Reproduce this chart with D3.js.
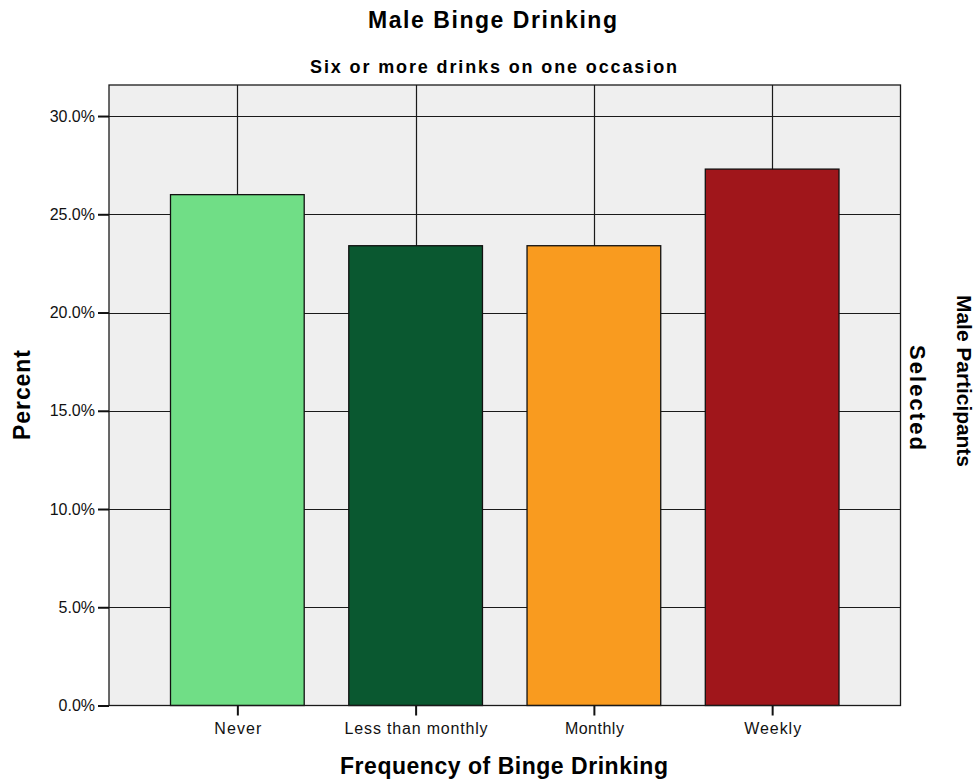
<!DOCTYPE html>
<html><head><meta charset="utf-8">
<script src="https://cdn.jsdelivr.net/npm/d3@7"></script>
<style>body{margin:0;background:#fff;} text{font-family:"Liberation Sans",Arial,sans-serif;}</style>
</head><body>
<svg id="c" width="979" height="780"></svg>
<script>
const categories = ["Never", "Less than monthly", "Monthly", "Weekly"];
const values = [26.0, 23.4, 23.4, 27.3];
const colors = ["#70DE86", "#0A5830", "#F99B1F", "#A0161B"];
const yTicks = [0, 5, 10, 15, 20, 25, 30];
const catLabelWidths = [47, 143, 59, 57];

const svg = d3.select("#c");
const L = 109, R = 900.5, T = 85, B = 705.5;
const x = d3.scalePoint().domain(categories).range([L, R]).padding(0.72);
const y = d3.scaleLinear().domain([0, 31.58]).range([B, T]);
const bw = x.step() * 0.75;

svg.append("rect").attr("x", L).attr("y", T).attr("width", R - L).attr("height", B - T)
  .attr("fill", "#EFEFEF");

svg.selectAll(".hg").data(yTicks.filter(d => d > 0)).join("line")
  .attr("x1", L).attr("x2", R).attr("y1", d => Math.round(y(d)) + 0.5).attr("y2", d => Math.round(y(d)) + 0.5)
  .attr("stroke", "#1a1a1a").attr("stroke-width", 1.2);
svg.selectAll(".vg").data(categories).join("line")
  .attr("x1", d => Math.round(x(d)) + 0.5).attr("x2", d => Math.round(x(d)) + 0.5)
  .attr("y1", T).attr("y2", B)
  .attr("stroke", "#1a1a1a").attr("stroke-width", 1.2);

svg.selectAll(".bar").data(values).join("rect")
  .attr("x", (d, i) => x(categories[i]) - bw / 2)
  .attr("y", d => y(d))
  .attr("width", bw)
  .attr("height", d => B - y(d))
  .attr("fill", (d, i) => colors[i])
  .attr("stroke", "#111").attr("stroke-width", 1.3);

svg.append("rect").attr("x", L).attr("y", T).attr("width", R - L).attr("height", B - T)
  .attr("fill", "none").attr("stroke", "#1a1a1a").attr("stroke-width", 1.3);

const yAxis = d3.axisLeft(y).tickValues(yTicks).tickFormat(d => d.toFixed(1) + "%").tickSize(11).tickSizeOuter(0);
const gy = svg.append("g").attr("transform", `translate(${L},0)`).call(yAxis);
gy.select(".domain").remove();
gy.selectAll(".tick line").attr("stroke", "#111").attr("stroke-width", 2);
gy.selectAll(".tick text").attr("font-size", 16).attr("fill", "#111")
  .style("font-family", "'Liberation Sans',Arial,sans-serif").attr("x", -14);

const xAxis = d3.axisBottom(x).tickSize(10).tickSizeOuter(0);
const gx = svg.append("g").attr("transform", `translate(0,${B})`).call(xAxis);
gx.select(".domain").remove();
gx.selectAll(".tick line").attr("stroke", "#111").attr("stroke-width", 2);
gx.selectAll(".tick text").attr("font-size", 16).attr("fill", "#111")
  .style("font-family", "'Liberation Sans',Arial,sans-serif").attr("y", 17)
  .attr("textLength", (d, i) => catLabelWidths[i]).attr("lengthAdjust", "spacing");

function label(txt, tr, size, len) {
  svg.append("text").attr("transform", tr).attr("text-anchor", "middle")
    .attr("font-size", size).attr("font-weight", "bold")
    .attr("textLength", len).attr("lengthAdjust", "spacing").text(txt);
}
label("Male Binge Drinking", "translate(492.5,28)", 23, 249);
label("Six or more drinks on one occasion", "translate(493.5,73)", 18, 367);
label("Frequency of Binge Drinking", "translate(504,773.5)", 23, 328);
label("Percent", "translate(29.5,395) rotate(-90)", 23, 90);
label("Male Participants", "translate(957,381) rotate(90)", 21, 172);
label("Selected", "translate(910,397.5) rotate(90)", 22, 105);
</script>
</body></html>
